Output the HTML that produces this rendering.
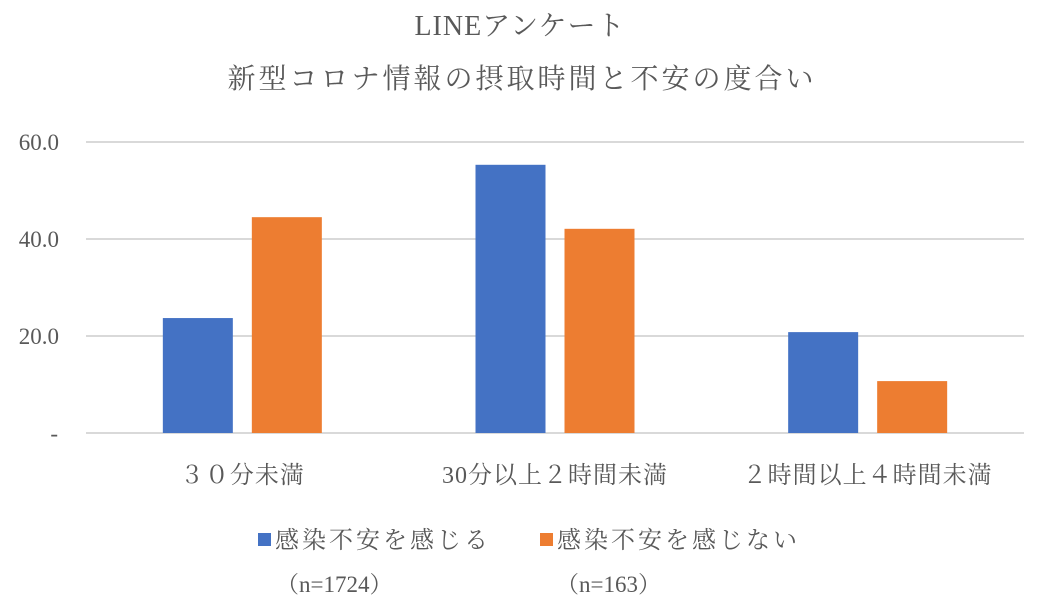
<!DOCTYPE html>
<html><head><meta charset="utf-8"><style>
body{margin:0;background:#fff;}
svg{display:block;font-family:"Liberation Serif","Noto Serif CJK SC","Noto Serif CJK JP",serif;}
</style></head><body>
<svg id="chart" width="1040" height="610">
<text x="520" y="35" text-anchor="middle" font-size="28" fill="#595959" letter-spacing="1">LINEアンケート</text>
<text x="522" y="88" text-anchor="middle" font-size="28" fill="#595959" letter-spacing="3">新型コロナ情報の摂取時間と不安の度合い</text>
<g id="grid"></g><g id="bars"></g><g id="labels"></g>
<rect x="258" y="533" width="13" height="13" fill="#4472c4"/>
<text x="275" y="548" font-size="24" fill="#595959" letter-spacing="3">感染不安を感じる</text>
<text x="276" y="592" font-size="23" fill="#595959">（n=1724）</text>
<rect x="540" y="533" width="13" height="13" fill="#ed7d31"/>
<text x="557" y="548" font-size="24" fill="#595959" letter-spacing="3">感染不安を感じない</text>
<text x="556" y="592" font-size="23" fill="#595959">（n=163）</text>
</svg>
<script>
const categories=["３０分未満","30分以上２時間未満","２時間以上４時間未満"];
const anxious=[23.7,55.3,20.8];
const notAnxious=[44.5,42.1,10.7];
const ticks=[0,20,40,60];
const tickLabels=["-","20.0","40.0","60.0"];
const NS="http://www.w3.org/2000/svg";
const x0=86,x1=1024,y0=433,yTop=142,yMax=60;
const y=v=>y0-(v/yMax)*(y0-yTop);
const cw=(x1-x0)/categories.length;
const cx=i=>x0+cw*(i+0.5);
function mk(t,a,p){const e=document.createElementNS(NS,t);for(const k in a)e.setAttribute(k,a[k]);document.getElementById(p).appendChild(e);return e;}
ticks.forEach((t,i)=>{
 const l=mk("line",{x1:x0,x2:x1,y1:y(t),y2:y(t),stroke:"#d9d9d9","stroke-width":2},"grid");
 
 
 const tx=mk("text",{x:i===0?58:59,y:y(t)+8,"text-anchor":"end","font-size":23,fill:"#595959"},"grid");
 tx.textContent=tickLabels[i];
 
 
});
const bw=70,gap=19;
categories.forEach((c,i)=>{
 const b1=mk("rect",{x:cx(i)-gap/2-bw,y:y(anxious[i]),width:bw,height:y0-y(anxious[i]),fill:"#4472c4"},"bars");
 
 
 const b2=mk("rect",{x:cx(i)+gap/2,y:y(notAnxious[i]),width:bw,height:y0-y(notAnxious[i]),fill:"#ed7d31"},"bars");
 
 
 const t=mk("text",{x:cx(i),y:483,"text-anchor":"middle","font-size":24,fill:"#595959","letter-spacing":1},"labels");
 t.textContent=c;
 
 
});
</script>
</body></html>
